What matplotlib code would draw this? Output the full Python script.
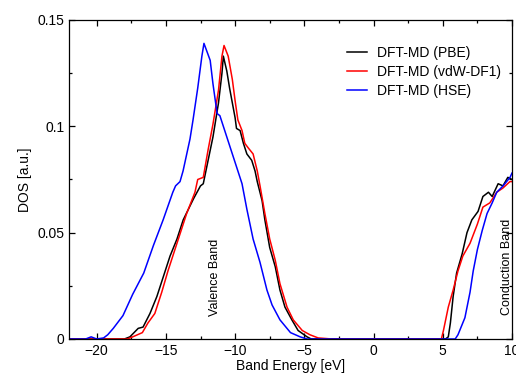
import matplotlib
matplotlib.use('Agg')
import matplotlib.pyplot as plt
import matplotlib.ticker as mticker

plt.rcParams.update({
    'font.family': ['Liberation Sans', 'DejaVu Sans'],
    'font.size': 10,
    'xtick.direction': 'in',
    'ytick.direction': 'in',
    'xtick.top': True,
    'ytick.right': True,
    'axes.linewidth': 0.9,
})

# -- Data --
pbe_e = [-22, -18.0, -17.6, -17.0, -16.65, -16.15, -15.65, -15.2, -14.7, -14.2,
         -13.75, -13.0, -12.5, -12.3, -11.95, -11.6, -11.2, -10.95, -10.85, -10.6,
         -10.4, -10.0, -9.9, -9.64, -9.4, -9.15, -8.8, -8.56, -8.4, -8.05,
         -7.85, -7.5, -7.1, -6.76, -6.4, -5.9, -5.45, -4.8, -4.5, 5.2,
         5.4, 5.55, 5.75, 6.0, 6.4, 6.75, 7.1, 7.55, 7.9, 8.3,
         8.57, 9.0, 9.35, 9.7, 10.0]
pbe_dos = [0, 0, 0.001, 0.005, 0.0056, 0.012, 0.020, 0.029, 0.039, 0.047,
           0.056, 0.066, 0.072, 0.073, 0.084, 0.095, 0.111, 0.125, 0.133, 0.126,
           0.118, 0.104, 0.099, 0.098, 0.092, 0.087, 0.084, 0.079, 0.074, 0.065,
           0.056, 0.043, 0.034, 0.023, 0.015, 0.009, 0.004, 0.001, 0, 0,
           0.001, 0.0075, 0.020, 0.031, 0.040, 0.050, 0.056, 0.060, 0.067, 0.069,
           0.067, 0.073, 0.072, 0.076, 0.075]

vdw_e = [-22, -17.8, -17.4, -16.7, -16.3, -15.8, -15.3, -14.85, -14.2, -13.5,
         -12.9, -12.7, -12.3, -11.95, -11.6, -11.2, -10.95, -10.8, -10.5, -10.2,
         -10.0, -9.8, -9.5, -9.3, -9.07, -8.7, -8.4, -8.2, -7.85, -7.5,
         -7.1, -6.76, -6.25, -5.8, -5.15, -4.6, -4.0, -3.0, 4.9, 5.05,
         5.4, 5.75, 6.1, 6.45, 6.97, 7.5, 7.9, 8.4, 8.9, 9.35,
         9.85, 10.0]
vdw_dos = [0, 0, 0.001, 0.003, 0.0075, 0.012, 0.022, 0.032, 0.045, 0.059,
           0.069, 0.075, 0.076, 0.089, 0.101, 0.117, 0.133, 0.138, 0.133, 0.122,
           0.112, 0.103, 0.098, 0.092, 0.090, 0.087, 0.079, 0.072, 0.059, 0.047,
           0.037, 0.026, 0.015, 0.009, 0.004, 0.002, 0.0005, 0, 0, 0.004,
           0.015, 0.023, 0.032, 0.039, 0.045, 0.054, 0.062, 0.064, 0.069, 0.071,
           0.074, 0.074]

hse_e = [-22, -20.8, -20.4, -20.0, -19.5, -19.2, -18.8, -18.1, -17.4, -16.6,
         -15.9, -15.2, -14.5, -14.3, -13.98, -13.76, -13.26, -13.04, -12.7, -12.4,
         -12.25, -11.8, -11.6, -11.3, -11.1, -10.7, -10.5, -10.15, -9.8, -9.5,
         -9.15, -8.7, -8.2, -7.7, -7.33, -6.76, -6.0, -5.3, -4.8, 5.9,
         6.1, 6.6, 6.97, 7.2, 7.5, 7.85, 8.2, 8.57, 8.9, 9.36,
         9.86, 10.0]
hse_dos = [0, 0, 0.001, 0, 0.0005, 0.002, 0.005, 0.011, 0.021, 0.031,
           0.044, 0.056, 0.069, 0.072, 0.074, 0.079, 0.094, 0.103, 0.118, 0.133,
           0.139, 0.131, 0.120, 0.106, 0.105, 0.097, 0.093, 0.086, 0.079, 0.073,
           0.061, 0.047, 0.036, 0.023, 0.016, 0.009, 0.003, 0.001, 0, 0,
           0.002, 0.010, 0.022, 0.032, 0.042, 0.051, 0.059, 0.064, 0.069, 0.072,
           0.076, 0.078]

fig = plt.figure(figsize=(5.16, 3.74), dpi=100)
ax = fig.add_axes([0.1337, 0.0936, 0.8585, 0.853])

ax.plot(pbe_e, pbe_dos, color='black', lw=1.1, label='DFT-MD (PBE)')
ax.plot(vdw_e, vdw_dos, color='red', lw=1.1, label='DFT-MD (vdW-DF1)')
ax.plot(hse_e, hse_dos, color='blue', lw=1.1, label='DFT-MD (HSE)')

ax.text(-11.45, 0.029, 'Valence Band', rotation=90, ha='center', va='center',
        fontsize=9)
ax.text(9.65, 0.034, 'Conduction Band', rotation=90, ha='center', va='center',
        fontsize=9)

ax.set_xlim(-22, 10)
ax.set_ylim(0, 0.15)
ax.xaxis.set_major_locator(mticker.MultipleLocator(5))
ax.xaxis.set_minor_locator(mticker.MultipleLocator(2.5))
ax.yaxis.set_major_locator(mticker.MultipleLocator(0.05))
ax.yaxis.set_minor_locator(mticker.MultipleLocator(0.025))
ax.yaxis.set_major_formatter(mticker.FormatStrFormatter('%g'))
ax.tick_params(which='major', length=4, width=0.9)
ax.tick_params(which='minor', length=2, width=0.9)

ax.set_xlabel('Band Energy [eV]', labelpad=1)
ax.set_ylabel('DOS [a.u.]', labelpad=4)

ax.legend(loc='upper left', bbox_to_anchor=(0.616, 0.935), frameon=False,
          handlelength=1.4, handletextpad=0.7, labelspacing=0.35,
          borderaxespad=0)

fig.savefig('out.png', dpi=100)
